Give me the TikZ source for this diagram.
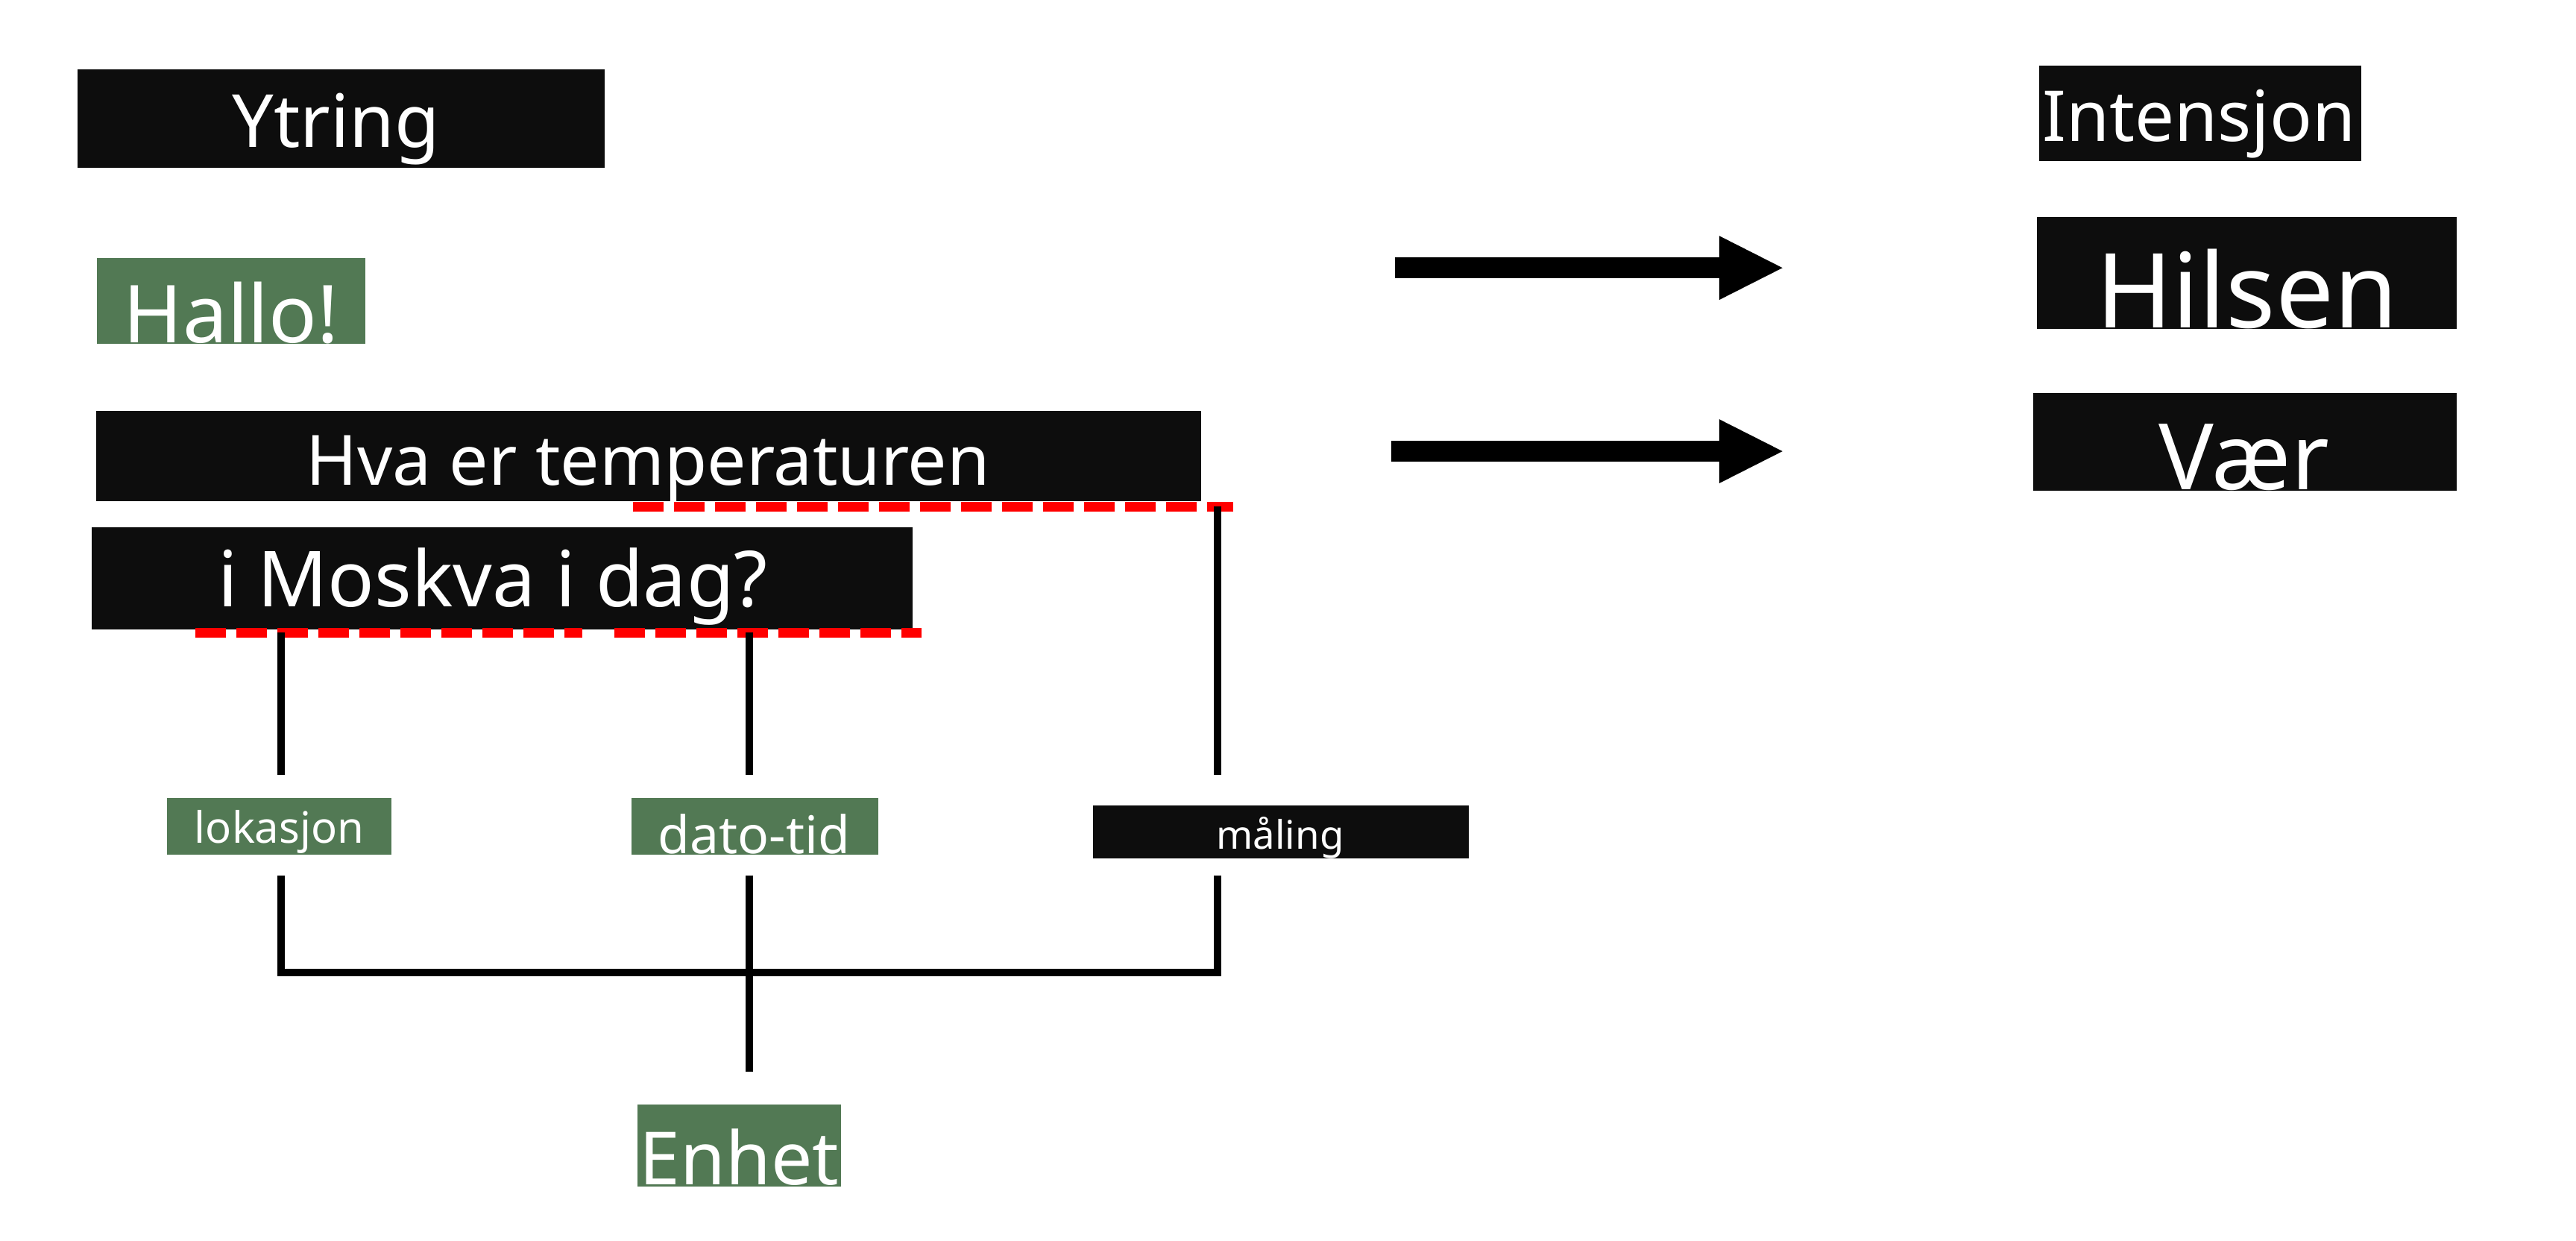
\documentclass[tikz,border=0pt]{standalone}
\usepackage{fontspec}
\setmainfont{Noto Sans}
\usetikzlibrary{fit,arrows.meta}
\definecolor{boxblack}{HTML}{0D0D0D}
\definecolor{boxgreen}{HTML}{527954}
\definecolor{dashred}{HTML}{FF0000}
\begin{document}
\begin{tikzpicture}[x=0.022034cm,y=-0.022034cm,
  blkbox/.style={fill=boxblack, draw=none, inner sep=0pt, outer sep=0pt},
  grnbox/.style={fill=boxgreen, draw=none, inner sep=0pt, outer sep=0pt},
  lbl/.style={text=white, inner sep=0pt, outer sep=0pt, anchor=base},
  conn/.style={draw=black, line width=0.1cm},
  redline/.style={draw=dashred, line width=0.135cm, dash pattern=on 0.41cm off 0.14cm},
  bigarrow/.style={draw=black, line width=0.28cm, -{Triangle[length=0.85cm,width=0.86cm,line width=0pt]}}
]
\useasboundingbox (0,0) rectangle (1568,755);

% boxes
\node[blkbox, fit={(47,42) (368,102)}] (ytringbox) {};
\node[grnbox, fit={(59,157) (222.5,209)}] (hallobox) {};
\node[blkbox, fit={(58.6,250) (731,305)}] (hvabox) {};
\node[blkbox, fit={(56,321) (555.5,383)}] (moskvabox) {};
\node[grnbox, fit={(101.7,485.5) (238.3,520)}] (lokbox) {};
\node[grnbox, fit={(384.4,485.6) (534.6,520.1)}] (datobox) {};
\node[blkbox, fit={(665.4,490) (894,522.5)}] (malbox) {};
\node[grnbox, fit={(388,672) (512,722)}] (enhetbox) {};
\node[blkbox, fit={(1241.3,40) (1437.3,98)}] (intbox) {};
\node[blkbox, fit={(1240,132) (1495.5,200)}] (hilsenbox) {};
\node[blkbox, fit={(1237.5,239) (1495.5,298.6)}] (vaerbox) {};

% texts
\node[lbl, font=\fontsize{28pt}{34pt}\selectfont] (ytring) at (204.5,89.4) {Ytring};
\node[lbl, font=\fontsize{30.5pt}{36pt}\selectfont] (hallo) at (140.7,208.5) {Hallo!};
\node[lbl, font=\fontsize{26.5pt}{32pt}\selectfont] (hva) at (394.4,295) {Hva er temperaturen};
\node[lbl, font=\fontsize{29.5pt}{35pt}\selectfont] (moskva) at (300,369) {i Moskva i dag?};
\node[lbl, font=\fontsize{16.5pt}{20pt}\selectfont] (lokasjon) at (170,512.9) {lokasjon};
\node[lbl, font=\fontsize{19.8pt}{24pt}\selectfont] (datotid) at (459,519.5) {dato-tid};
\node[lbl, font=\fontsize{15pt}{18pt}\selectfont] (maling) at (779.2,516.5) {måling};
\node[lbl, font=\fontsize{28pt}{34pt}\selectfont] (enhet) at (450,721) {Enhet};
\node[lbl, font=\fontsize{26.8pt}{32pt}\selectfont] (intensjon) at (1338.5,86.1) {Intensjon};
\node[lbl, font=\fontsize{39.5pt}{46pt}\selectfont] (hilsen) at (1367.7,199.4) {Hilsen};
\node[lbl, font=\fontsize{35pt}{42pt}\selectfont] (vaer) at (1365.9,298) {Vær};

% red dashed underlines
\coordinate (d1s) at (385.3,308.3);
\coordinate (d1e) at (750.5,308.3);
\coordinate (d2s) at (119,385);
\coordinate (d2e) at (354.5,385);
\coordinate (d3s) at (374,385);
\coordinate (d3e) at (561,385);
\draw[redline] (d1s) -- (d1e);
\draw[redline] (d2s) -- (d2e);
\draw[redline] (d3s) -- (d3e);

% connectors
\coordinate (c1t) at (171,385);   \coordinate (c1b) at (171,471.5);
\coordinate (c2t) at (456,385);   \coordinate (c2b) at (456,471.5);
\coordinate (c3t) at (741,308);   \coordinate (c3b) at (741,471.5);
\coordinate (b1t) at (171,533);   \coordinate (b1b) at (171,592);
\coordinate (b3t) at (741,533);   \coordinate (b3b) at (741,592);
\coordinate (b2t) at (456,533);   \coordinate (b2b) at (456,652);
\draw[conn] (c1t) -- (c1b);
\draw[conn] (c2t) -- (c2b);
\draw[conn] (c3t) -- (c3b);
\draw[conn] (b1t) -- (b1b) -- (b3b) -- (b3t);
\draw[conn] (b2t) -- (b2b);

% arrows
\coordinate (a1s) at (849,163);   \coordinate (a1e) at (1085,163);
\coordinate (a2s) at (847,274.6); \coordinate (a2e) at (1085,274.6);
\draw[bigarrow] (a1s) -- (a1e);
\draw[bigarrow] (a2s) -- (a2e);
\end{tikzpicture}
\end{document}
